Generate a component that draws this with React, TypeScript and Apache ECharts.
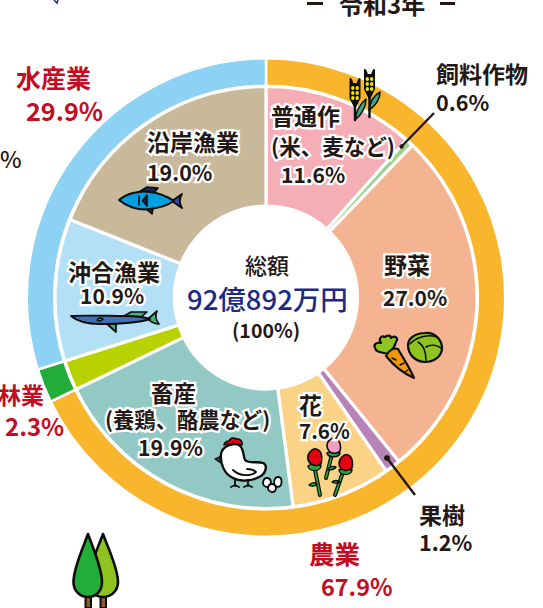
import React, { useEffect, useRef } from "react";
import * as echarts from "echarts";

const INK = "#231815";
const RED = "#c30d23";
const NAVY = "#1d2a85";
const BLK = "#0c0c0c";

// inner ring, clockwise from 12 o'clock
const innerCategories = ["普通作", "飼料作物", "野菜", "果樹", "花", "畜産", "林業", "沖合漁業", "沿岸漁業"];
const innerValues = [11.6, 0.6, 27.0, 1.2, 7.6, 19.9, 2.3, 10.9, 19.0];
const innerColors = ["#f5aeb6", "#9fd08e", "#f4b492", "#b884b7", "#fcd287", "#93c9c4", "#b8d200", "#b3e0f7", "#c7b99a"];

// outer ring
const outerCategories = ["農業", "林業", "水産業"];
const outerValues = [67.9, 2.3, 29.9];
const outerColors = ["#f9b62d", "#22ac38", "#8dd2f4"];

const totalLines = ["総額", "92億892万円", "(100%)"];
const yearTitle = "令和3年";

const pct = (v: number) => v.toFixed(1) + "%";
const innerPct = (n: string) => pct(innerValues[innerCategories.indexOf(n)]);
const outerPct = (n: string) => pct(outerValues[outerCategories.indexOf(n)]);

type Icon = [string, string, string, number?, string?];
const seeds = (cx: number, ys: number[]) =>
  ys
    .map((y) => `M${cx - 3.9} ${y}a1.7 2 0 1 0 3.4 0a1.7 2 0 1 0 -3.4 0ZM${cx + 0.5} ${y}a1.7 2 0 1 0 3.4 0a1.7 2 0 1 0 -3.4 0Z`)
    .join("");
const ICONS: Icon[] = [
  // trees
  ["trunkA", "M85.5 596V608H91V596Z", "#8a5a2b", 2],
  ["trunkB", "M100.5 596V608H106V596Z", "#8a5a2b", 2],
  ["treeB", "M103 534C108 548 118 568 118 582C118 591 111 597 103 597C95 597 88 591 88 582C88 568 98 548 103 534Z", "#8fc31f", 2.6],
  ["treeA", "M88 534C93 548 102 568 102 582C102 591 96 597 88 597C80 597 73.5 591 73.5 582C73.5 568 83 548 88 534Z", "#22ac38", 2.6],
  // saury
  ["sanmaTail", "M148 319L157 311C155 315 155 319 159 324C155 324 151 322 148 319Z", "#3fb27f", 1.7],
  ["sanmaFinTop", "M124 316L131 312L147 312L141 317Z", "#3fb27f", 1.6],
  ["sanmaFinLow", "M106 323L116 332L116 324Z", "#3fb27f", 1.7],
  ["sanmaBody", "M71 316C82 315 110 316 124 316C132 316 142 316 150 319C138 323 118 324 100 324C88 324 78 322 71 316Z", "#4070b8", 1.9],
  ["sanmaGill", "M97 320C99 317 102 318 103 319C101 321 99 322 97 320Z", "#3fb27f", 1.3],
  // fish
  ["fishTail", "M172 201L182 194C179 198 179 204 182 208Z", "#37479b", 2],
  ["fishFinTop", "M139 192L147 187L158 188L153 194Z", "#18244f", 1.6],
  ["fishFinLow", "M145 208L152 214L153 208Z", "#18244f", 1.6],
  ["fishBody", "M119 200C126 194 139 190 150 192C160 193 168 197 174 201C168 205 160 208 150 209C138 211 126 206 119 200Z", "#00a0e0", 2],
  ["fishGill", "M139 196V205M147 195L142.5 200.5L147 206Z", "#0c2a5a", 1.6],
  // wheat, left and right
  ["leafL", "M355 120C356 112 359 105 366 99C366 108 361 115 355 120Z", "#3fa77a", 1.5],
  ["wheatL", "M350.5 79V98L355 107L359.5 98V79L358 82V84H352V82Z", BLK, 2],
  ["seedsL", seeds(355, [88, 93, 98]), "#f5e400", 0],
  ["wheatLine", "M355 104V120", "none", 2.4],
  ["leafR", "M369 110C370 102 373 96 380 92C380 100 375 106 369 110Z", "#3fa77a", 1.5],
  ["wheatR", "M365 70V89L369.5 98L374 89V70L372.5 73V75H366.5V73Z", BLK, 2],
  ["seedsR", seeds(369.5, [79, 84, 89]), "#f5e400", 0],
  ["wheatRLine", "M369.5 95V117", "none", 2.4],
  // carrot
  ["carrotTop", "M388 354C382 352 376 353 375 348C373 344 377 342 381 343C378 339 381 335 385 337C387 335 391 335 391 338C395 335 399 338 396 342C395 346 392 350 390 352Z", "#8fc31f", 2.1],
  ["carrot", "M386 356C388 351 394 347 398 349C403 358 410 368 414 378C405 374 394 366 386 356Z", "#f39800", 2.1],
  ["carrotMarks", "M392 358L396 360M400 365L404 363M405 372L408 370", "none", 1.4],
  // cabbage
  ["cabbage", "M425 333C436 332 442 341 442 348C442 357 433 362 425 362C415 362 408 354 408 345C408 338 416 333 425 333Z", "#8fc31f", 2.2],
  ["cabbageLeaf", "M410 344C416 337 428 334 437 337M418 342C424 345 426 352 426 361M426 347C431 344 437 345 441 348", "none", 1.5],
  // chicken
  ["comb", "M224 445C225 441 228 441 229 441C230 438 234 437 236 439C239 438 243 441 242 445C236 443 230 443 224 445Z", "#e60012", 1.6],
  ["beak", "M221 456L215 459L221 463Z", "#3b3b3b", 1.3],
  ["chick", "M221 454C222 447 232 442 239 445C244 448 243 456 245 460C249 464 258 461 263 463C268 465 266 474 259 477C252 481 240 482 233 478C224 474 220 463 221 454Z", "#ffffff", 2.3],
  ["wing", "M233 470C240 477 252 476 256 472C254 470 250 469 247 469", "none", 1.8],
  ["feet", "M235 480V486M231 487L235 485L239 487M248 480V486M244 487L248 485L252 487", "none", 1.8],
  ["egg1", "M267 478C271 478 272 483 270 486C268 488 264 487 263 484C263 481 264 478 267 478Z", "#fff", 1.8],
  ["egg2", "M278 477C282 477 282 482 281 485C279 488 275 487 274 484C274 481 275 477 278 477Z", "#fff", 1.8],
  ["egg3", "M272 484C276 484 277 489 275 491C273 493 269 492 268 489C268 486 269 484 272 484Z", "#fff", 1.8],
  // roses: stems, leaves, calyx, heads
  ["stems", "M315 470L320 495M331 458L326 478M342 475L335 495", "none", 4],
  ["stemFill", "M315 470L320 495M331 458L326 478M342 475L335 495", "none", 1.6, "#22ac38"],
  ["roseLeaves", "M316 483C313 482 311 483 309 485C312 487 315 486 317 484ZM329 468C332 466 334 466 336 467C334 470 331 470 328 470ZM339 481C336 480 334 480 332 482C335 484 338 483 340 482Z", "#22ac38", 1.4],
  ["calyx", "M308 466C309 472 320 472 321 466C317 463 312 463 308 466ZM327 453C328 458 339 458 340 453C336 451 331 451 327 453ZM339 470C340 476 351 476 352 470C348 468 343 468 339 470Z", "#22ac38", 1.5],
  ["roseRed1", "M308 459C307 453 313 448 316 449C321 450 323 456 321 464C316 467 309 465 308 459Z", "#e60012", 1.6],
  ["rosePink", "M327 446C327 440 333 437 336 439C341 441 341 448 340 451C336 455 328 454 327 446Z", "#f19ec2", 1.6],
  ["roseRed2", "M339 464C339 458 345 453 348 455C353 457 353 464 352 468C347 472 340 471 339 464Z", "#e60012", 1.6],
];
ICONS.forEach(([name, d]) => echarts.graphic.registerShape(name, echarts.graphic.extendPath(d, {})));

const iconEl = ([name, , fill, lw, stroke]: Icon) => ({
  type: name,
  x: 0,
  y: 0,
  silent: true,
  style: { fill, stroke: lw === 0 ? "none" : stroke ?? BLK, lineWidth: lw ?? 1.5, lineJoin: "round", lineCap: "round" },
});

const FONT = '"Noto Sans CJK JP", "Noto Sans", sans-serif';

const txt = (text: string, x: number, cy: number, size: number, fill = INK, halo = false, weight: number | string = 700, align = "left") => ({
  type: "text",
  x,
  y: cy,
  silent: true,
  z: 5,
  style: {
    text,
    x: 0,
    y: 0,
    fill,
    align,
    verticalAlign: "middle",
    font: `${weight} ${size}px ${FONT}`,
    ...(halo ? { stroke: "#ffffff", lineWidth: 4.5, lineJoin: "round" } : {}),
  },
});

function buildOption() {
  const seg = (x1: number, y1: number, x2: number, y2: number, color = INK, w = 2.4) => ({
    type: "line",
    silent: true,
    z: 4,
    shape: { x1, y1, x2, y2 },
    style: { stroke: color, lineWidth: w },
  });
  const elements: any[] = [
    seg(307, 3.5, 323, 3.5, INK, 3),
    seg(440, 3.5, 455, 3.5, INK, 3),
    txt(yearTitle, 339, 3, 24),
    { type: "polyline", silent: true, shape: { points: [[54, 0], [57, 3], [58, 0]] }, style: { stroke: NAVY, lineWidth: 1.5, fill: "none" } },
    txt("%", 0, 158, 23, INK, false, 500),

    txt(outerCategories[2], 16, 77, 25, RED),
    txt(outerPct("水産業"), 26, 110, 25.2, RED),
    txt(outerCategories[1], -2, 394, 23, RED),
    txt(outerPct("林業"), 5, 425, 24, RED),
    txt(outerCategories[0], 309, 552, 25.5, RED),
    txt(outerPct("農業"), 321, 586, 23.4, RED),

    txt(innerCategories[8], 147, 141, 23, INK, true),
    txt(innerPct("沿岸漁業"), 147, 171, 21.4, INK, true),
    txt(innerCategories[7], 68, 271, 23, INK, true),
    txt(innerPct("沖合漁業"), 80, 295, 21, INK, true),
    txt(innerCategories[0], 271, 115, 23, INK, true),
    txt("(米、麦など)", 271, 145, 21.5, INK, true),
    txt(innerPct("普通作"), 281, 174, 21, INK, true),
    txt(innerCategories[2], 384, 264, 23, INK, true),
    txt(innerPct("野菜"), 383, 297, 21, INK, true),
    txt(innerCategories[4], 299, 404, 23, INK, true),
    txt(innerPct("花"), 299, 430, 20.6, INK, true),
    txt(innerCategories[5], 151, 392, 22.5, INK, true),
    txt("(養鶏、酪農など)", 105, 418, 21.3, INK, true),
    txt(innerPct("畜産"), 138, 446, 21.2, INK, true),

    txt(innerCategories[1], 436, 73, 23),
    txt(innerPct("飼料作物"), 436, 101, 21.6),
    txt(innerCategories[3], 419, 514, 23),
    txt(innerPct("果樹"), 419, 541, 21.6),

    txt(totalLines[0], 245, 264, 22, INK, false, 500),
    txt(totalLines[1], 187, 298, 27.5, NAVY, false, 500),
    txt(totalLines[2], 232, 329, 19.5, INK, false, 700),

    seg(434, 113, 402, 146),
    { type: "circle", silent: true, z: 4, shape: { cx: 401.5, cy: 146.5, r: 2.2 }, style: { fill: INK } },
    seg(415, 495, 387, 458),
    { type: "circle", silent: true, z: 4, shape: { cx: 387, cy: 458, r: 3 }, style: { fill: INK } },

    ...ICONS.map((i) => ({ ...iconEl(i), z: 3 })),
  ];

  const base = {
    type: "pie",
    center: [266, 297.5],
    startAngle: 90,
    clockwise: true,
    silent: true,
    avoidLabelOverlap: false,
    label: { show: false },
    labelLine: { show: false },
    emphasis: { disabled: true },
  };

  return {
    animation: false,
    tooltip: { show: false },
    series: [
      {
        ...base,
        name: "内訳",
        radius: [91.5, 211],
        itemStyle: { borderColor: "#ffffff", borderWidth: 3.2 },
        data: innerCategories.map((name, i) => ({ name, value: innerValues[i], itemStyle: { color: innerColors[i] } })),
      },
      {
        ...base,
        name: "部門",
        radius: [211.8, 239.2],
        itemStyle: { borderColor: "#ffffff", borderWidth: 2.5 },
        data: outerCategories.map((name, i) => ({ name, value: outerValues[i], itemStyle: { color: outerColors[i] } })),
      },
    ],
    graphic: { elements },
  };
}

export default function App() {
  const ref = useRef<HTMLDivElement>(null);
  useEffect(() => {
    const chart = echarts.init(ref.current!, null, { renderer: "svg" });
    chart.setOption(buildOption() as any);
    return () => chart.dispose();
  }, []);
  return <div ref={ref} style={{ position: "absolute", left: 0, top: 0, width: 543, height: 608, background: "#fff" }} />;
}
